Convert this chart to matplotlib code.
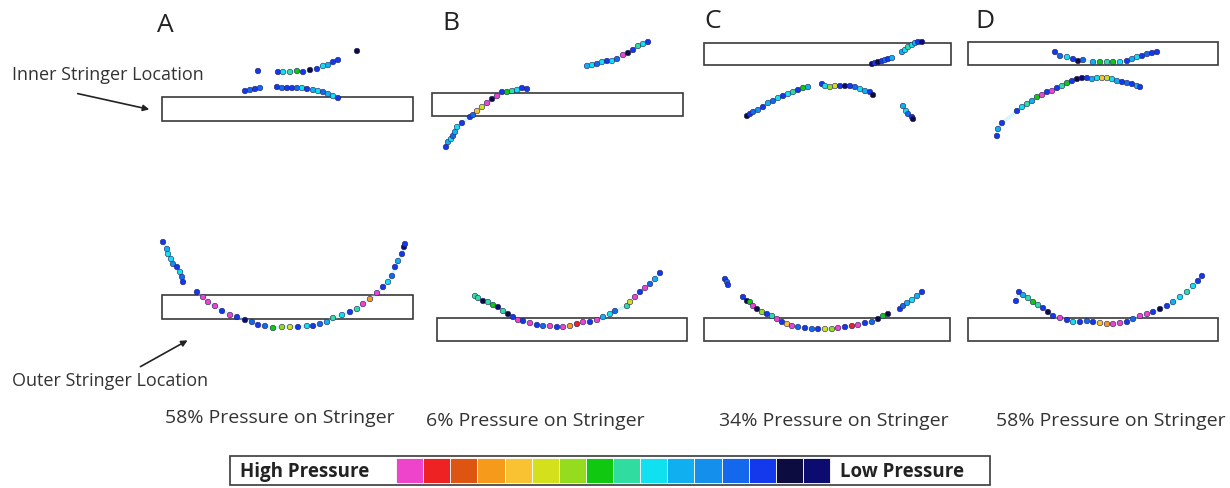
import matplotlib
matplotlib.use("Agg")
import matplotlib.pyplot as plt
from matplotlib.patches import Rectangle

plt.rcParams['font.family'] = ['Open Sans', 'DejaVu Sans']

W, H = 1230, 489

# ---- pressure colour scale (high -> low) ----
palette = ['#ee44cc', '#ee2222', '#dd5511', '#f59a1a', '#f8c232', '#d4e01c',
           '#96dc1e', '#10c810', '#30dca0', '#10e0f0', '#10b0f0', '#1490ec',
           '#1468ec', '#1438ec', '#0c0c40', '#0c0c70']

panel_letters = ['A', 'B', 'C', 'D']
captions = ['58% Pressure on Stringer', '6% Pressure on Stringer',
            '34% Pressure on Stringer', '58% Pressure on Stringer']

# stringer boxes per panel (local units): x, y, width, height
inner_stringer = [(12, 68, 251, 24), (12, 64, 251, 23), (9, 14, 247, 22), (8, 13, 250, 23)]
outer_stringer = [(12, 266, 251, 24), (17, 289, 250, 23), (9, 289, 246, 23), (8, 289, 250, 23)]

# ---- measured contact points (local units, y downwards) ----
# Panel A
a_dot = ([207, 108], [22, 42], [14, 13])
a_up = ([128, 133, 140, 147, 153, 160, 167, 173, 178, 183, 188],
        [43, 43, 43, 42, 43, 41, 40, 37, 36, 33, 31],
        [13, 9, 8, 7, 13, 14, 13, 9, 10, 13, 13])
a_left = ([95, 100, 105, 110], [62, 61, 60, 59], [13, 12, 13, 12])
a_low = ([127, 132, 137, 142, 147, 152, 157, 163, 168, 173, 178, 183, 188],
         [58, 59, 59, 59, 59, 59, 60, 61, 62, 63, 65, 67, 69],
         [13, 12, 13, 13, 12, 9, 13, 10, 9, 12, 10, 9, 13])
a_arm = ([13, 17, 18, 21, 23, 27, 30, 32, 33],
         [213, 220, 225, 230, 235, 238, 243, 248, 253],
         [13, 10, 9, 9, 11, 13, 9, 12, 13])
a_bot = ([47, 53, 58, 65, 72, 80, 87, 95, 102, 108, 115, 123, 132, 140, 148, 157, 163,
          170, 177, 183, 192, 200, 207, 213, 220, 227, 233, 238, 242, 245, 248, 252, 254, 255],
         [263, 268, 273, 277, 282, 286, 288, 291, 293, 296, 297, 299, 298, 298, 298, 297, 297,
          295, 293, 289, 286, 283, 280, 275, 270, 264, 258, 253, 247, 238, 232, 225, 218, 215],
         [13, 0, 0, 0, 13, 0, 13, 15, 12, 13, 12, 7, 6, 5, 13, 9, 13,
          12, 10, 8, 9, 13, 8, 0, 3, 0, 13, 9, 12, 13, 10, 13, 15, 13])
# Panel B
b_up = ([167, 172, 177, 182, 187, 192, 197, 203, 208, 213, 218, 223, 228],
        [37, 36, 35, 33, 32, 32, 30, 26, 24, 21, 17, 15, 13],
        [10, 9, 12, 9, 13, 9, 12, 0, 14, 13, 8, 9, 13])
b_left = ([26, 28, 31, 33, 35, 37, 42, 50, 53, 57, 62, 67, 72, 77, 82, 87, 92, 97, 102, 107],
          [118, 113, 110, 107, 103, 98, 94, 88, 86, 82, 78, 74, 70, 67, 63, 63, 62, 61, 59, 60],
          [13, 10, 9, 12, 10, 9, 13, 13, 12, 4, 5, 0, 14, 0, 13, 7, 8, 9, 13, 13])
b_bot = ([55, 58, 63, 68, 73, 78, 83, 88, 93, 98, 103, 110, 117, 123, 130, 137, 143, 150,
          157, 163, 170, 177, 183, 190, 195, 207, 210, 215, 220, 225, 230, 235, 240],
         [267, 269, 272, 273, 276, 278, 282, 285, 288, 291, 292, 294, 296, 297, 297, 298, 298, 297,
          295, 293, 293, 291, 288, 285, 282, 277, 273, 268, 263, 259, 255, 250, 244],
         [8, 8, 14, 8, 7, 15, 8, 14, 13, 0, 13, 0, 13, 12, 0, 13, 0, 3,
          1, 0, 13, 0, 10, 9, 12, 8, 5, 0, 13, 0, 12, 10, 13])
# Panel C
c_in = ([177, 180, 183, 187, 190, 193, 197], [35, 34, 33, 32, 31, 30, 29], [15, 13, 14, 13, 12, 13, 10])
c_up = ([207, 210, 213, 217, 220, 223, 227], [23, 21, 18, 16, 14, 13, 13], [10, 9, 8, 9, 10, 13, 15])
c_arc = ([52, 55, 58, 63, 68, 73, 78, 83, 88, 93, 98, 103, 108, 113],
         [87, 85, 83, 81, 78, 74, 72, 69, 67, 65, 63, 61, 59, 58],
         [14, 13, 12, 11, 13, 10, 12, 9, 13, 9, 8, 13, 7, 10])
c_mid = ([127, 130, 135, 140, 145, 150, 155, 160, 165, 170, 175, 178],
         [55, 57, 58, 57, 57, 57, 57, 58, 60, 62, 63, 66],
         [13, 9, 6, 5, 13, 15, 13, 12, 9, 10, 13, 14])
c_dn = ([208, 211, 213, 217, 218], [77, 82, 85, 88, 90], [10, 9, 12, 13, 14])
c_iso = ([30, 32, 33], [250, 253, 256], [13, 12, 13])
c_bot = ([48, 52, 55, 58, 62, 67, 72, 77, 82, 87, 92, 97, 103, 110, 117, 123, 130, 137, 143,
          150, 157, 163, 170, 177, 183, 188, 193],
         [268, 272, 273, 277, 280, 283, 285, 287, 290, 293, 295, 297, 298, 299, 300, 300, 300, 300, 299,
          298, 297, 296, 294, 293, 290, 287, 285],
         [13, 14, 7, 0, 14, 6, 13, 8, 0, 13, 4, 0, 12, 13, 12, 13, 5, 6, 0,
          13, 1, 0, 13, 12, 14, 7, 14])
c_right = ([205, 208, 212, 217, 222, 227], [280, 277, 274, 271, 267, 263], [13, 12, 10, 9, 10, 13])
# Panel D
d_in = ([95, 100, 107, 113, 118, 123, 133, 140, 147, 153, 160, 167, 172, 177, 182, 187, 192, 197],
        [23, 27, 28, 30, 32, 31, 33, 33, 33, 33, 33, 32, 30, 28, 27, 25, 24, 23],
        [13, 12, 9, 13, 14, 12, 10, 7, 8, 7, 9, 13, 10, 9, 13, 12, 13, 13])
d_arc = ([37, 38, 42, 57, 62, 67, 72, 77, 82, 87, 92, 97, 102, 107, 112, 117, 122, 127, 132,
          137, 142, 147, 152, 157, 162, 167, 172, 177, 180],
         [107, 100, 94, 82, 78, 75, 72, 68, 66, 63, 62, 59, 57, 54, 52, 50, 49, 49, 50,
          49, 49, 49, 50, 52, 53, 54, 55, 57, 58],
         [13, 10, 13, 13, 9, 8, 10, 7, 0, 13, 0, 13, 8, 7, 13, 14, 15, 13, 10,
          9, 4, 5, 9, 10, 13, 12, 13, 10, 13])
d_bot = ([56, 59, 63, 68, 73, 78, 83, 88, 93, 100, 107, 113, 120, 127, 133, 140, 147, 153, 160,
          167, 173, 180, 187, 193, 200, 207, 213, 220, 227, 233, 238, 242],
         [272, 263, 266, 269, 273, 276, 279, 283, 287, 289, 291, 293, 293, 292, 293, 294, 295, 295, 294,
          293, 290, 287, 285, 283, 280, 277, 273, 268, 263, 257, 252, 247],
         [13, 13, 10, 8, 7, 8, 13, 14, 13, 0, 13, 9, 13, 12, 13, 4, 3, 0, 0,
          13, 12, 0, 0, 13, 14, 13, 10, 9, 8, 9, 13, 13])

panel_curves = [
    [a_dot, a_up, a_left, a_low, a_arm, a_bot],
    [b_up, b_left, b_bot],
    [c_in, c_up, c_arc, c_mid, c_dn, c_iso, c_bot, c_right],
    [d_in, d_arc, d_bot],
]

# panel placement in figure pixels (left, top, width, height)
panel_boxes = [(150, 30, 270, 320), (420, 30, 275, 320), (695, 30, 265, 320), (960, 30, 270, 320)]

fig = plt.figure(figsize=(W / 100, H / 100), dpi=100)
fig.patch.set_facecolor('white')

for (l, t, w, h), curves, inner, outer in zip(panel_boxes, panel_curves, inner_stringer, outer_stringer):
    ax = fig.add_axes([l / W, 1 - (t + h) / H, w / W, h / H])
    ax.set_xlim(0, w)
    ax.set_ylim(h, 0)
    ax.axis('off')
    for (x, y, w_, h_) in (inner, outer):
        ax.add_patch(Rectangle((x, y), w_, h_, fill=False, edgecolor='#3a3a3a',
                               linewidth=1.2, clip_on=False, zorder=1))
    for xs, ys, cs in curves:
        if len(xs) > 2:
            ax.plot(xs, ys, color='#8fe8f5', lw=2.5, alpha=0.35, zorder=2, solid_capstyle='round')
        ax.scatter(xs, ys, c=[palette[i] for i in cs], s=16, edgecolors='#202060',
                   linewidths=0.4, zorder=3, clip_on=False)

# overlay for text, arrows and the colour key (figure pixel units)
ov = fig.add_axes([0, 0, 1, 1])
ov.set_xlim(0, W)
ov.set_ylim(H, 0)
ov.axis('off')
ov.patch.set_alpha(0)

letter_pos = [(165, 25), (451, 24), (713, 22), (985, 22)]
for (x, y), s in zip(letter_pos, panel_letters):
    ov.text(x, y, s, fontsize=19, ha='center', va='center', color='#222222')

caption_pos = [(280, 418), (535, 421), (834, 421), (1111, 421)]
for (x, y), s in zip(caption_pos, captions):
    ov.text(x, y, s, fontsize=14, ha='center', va='center', color='#333333')

ov.text(12, 75, 'Inner Stringer Location', fontsize=13, ha='left', va='center', color='#333333')
ov.text(12, 381, 'Outer Stringer Location', fontsize=13, ha='left', va='center', color='#333333')
ov.annotate('', xy=(152, 111), xytext=(75, 94),
            arrowprops=dict(arrowstyle='-|>', color='#222222', lw=1.2, mutation_scale=9))
ov.annotate('', xy=(190, 340), xytext=(138, 369),
            arrowprops=dict(arrowstyle='-|>', color='#222222', lw=1.2, mutation_scale=9))

# colour key
ov.add_patch(Rectangle((230, 457), 760, 29, fill=False, edgecolor='#3a3a3a', linewidth=1.2))
key_left, key_right = 396, 830
cell = (key_right - key_left) / len(palette)
ov.bar([key_left + cell * (i + 0.5) for i in range(len(palette))], [25] * len(palette),
       width=cell, bottom=459, color=palette, edgecolor='white', linewidth=0.6)
ov.text(240, 472, 'High Pressure', fontsize=13.5, fontweight='bold', ha='left', va='center', color='#222222')
ov.text(840, 472, 'Low Pressure', fontsize=13.5, fontweight='bold', ha='left', va='center', color='#222222')

fig.savefig('out.png', dpi=100, facecolor='white')
